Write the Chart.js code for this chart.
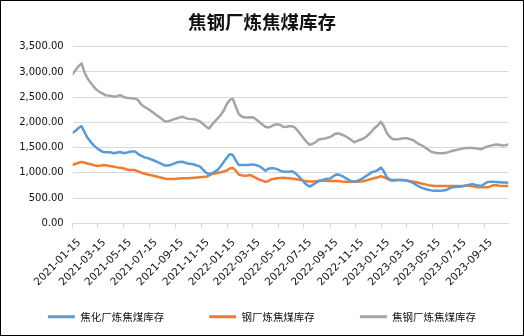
<!DOCTYPE html>
<html><head><meta charset="utf-8">
<script src="https://cdn.jsdelivr.net/npm/chart.js@4"></script>
<style>html,body{margin:0;padding:0;background:#fff;}</style>
</head><body><canvas id="c" width="524" height="336"></canvas>
<script>
const dates = [
'2021-01-15','2021-01-22','2021-01-29','2021-02-05','2021-02-12','2021-02-19','2021-02-26','2021-03-05','2021-03-12','2021-03-19',
'2021-03-26','2021-04-02','2021-04-09','2021-04-16','2021-04-23','2021-04-30','2021-05-07','2021-05-14','2021-05-21','2021-05-28',
'2021-06-04','2021-06-11','2021-06-18','2021-06-25','2021-07-02','2021-07-09','2021-07-16','2021-07-23','2021-07-30','2021-08-06',
'2021-08-13','2021-08-20','2021-08-27','2021-09-03','2021-09-10','2021-09-17','2021-09-24','2021-10-01','2021-10-08','2021-10-15',
'2021-10-22','2021-10-29','2021-11-05','2021-11-12','2021-11-19','2021-11-26','2021-12-03','2021-12-10','2021-12-17','2021-12-24',
'2021-12-31','2022-01-07','2022-01-14','2022-01-21','2022-01-28','2022-02-04','2022-02-11','2022-02-18','2022-02-25','2022-03-04',
'2022-03-11','2022-03-18','2022-03-25','2022-04-01','2022-04-08','2022-04-15','2022-04-22','2022-04-29','2022-05-06','2022-05-13',
'2022-05-20','2022-05-27','2022-06-03','2022-06-10','2022-06-17','2022-06-24','2022-07-01','2022-07-08','2022-07-15','2022-07-22',
'2022-07-29','2022-08-05','2022-08-12','2022-08-19','2022-08-26','2022-09-02','2022-09-09','2022-09-16','2022-09-23','2022-09-30',
'2022-10-07','2022-10-14','2022-10-21','2022-10-28','2022-11-04','2022-11-11','2022-11-18','2022-11-25','2022-12-02','2022-12-09',
'2022-12-16','2022-12-23','2022-12-30','2023-01-06','2023-01-13','2023-01-20','2023-01-27','2023-02-03','2023-02-10','2023-02-17',
'2023-02-24','2023-03-03','2023-03-10','2023-03-17','2023-03-24','2023-03-31','2023-04-07','2023-04-14','2023-04-21','2023-04-28',
'2023-05-05','2023-05-12','2023-05-19','2023-05-26','2023-06-02','2023-06-09','2023-06-16','2023-06-23','2023-06-30','2023-07-07',
'2023-07-14','2023-07-21','2023-07-28','2023-08-04','2023-08-11','2023-08-18','2023-08-25','2023-09-01','2023-09-08','2023-09-15',
'2023-09-22','2023-09-29','2023-10-06','2023-10-13','2023-10-20','2023-10-27','2023-11-03','2023-11-10'];

const cokingPlantStock = [1797,1835,1892,1925,1805,1695,1620,1550,1500,1455,
 1420,1407,1407,1403,1390,1402,1415,1395,1397,1413,
 1425,1422,1377,1342,1315,1298,1279,1255,1231,1204,
 1177,1148,1147,1157,1180,1204,1214,1221,1201,1185,
 1176,1166,1145,1125,1062,1005,975,993,1025,1065,
 1137,1222,1301,1371,1355,1250,1158,1155,1155,1156,
 1162,1168,1152,1130,1093,1041,1080,1090,1090,1075,
 1045,1023,1023,1023,1030,1000,946,888,820,765,
 728,762,800,840,857,872,883,891,934,969,
 961,937,899,869,836,830,842,868,897,937,
 975,1015,1030,1057,1105,1030,913,870,858,858,
 858,858,854,845,822,797,760,725,702,681,
 665,653,646,646,647,653,660,690,714,720,
 725,731,738,753,770,773,761,749,745,782,
 820,824,824,821,815,810,808,805];

const steelMillStock = [1162,1182,1201,1218,1201,1185,1170,1155,1143,1139,
 1151,1149,1141,1131,1120,1109,1100,1091,1072,1056,
 1056,1056,1032,1007,989,972,959,947,933,920,
 905,890,878,878,878,884,889,892,892,894,
 899,905,908,912,916,921,950,977,989,1001,
 1013,1028,1051,1085,1097,1050,968,952,944,949,
 957,926,896,868,845,822,837,874,883,892,
 897,902,900,893,887,879,870,858,845,836,
 827,828,834,839,842,844,841,838,838,838,
 834,828,824,824,824,824,824,828,836,849,
 866,883,899,914,932,915,884,856,848,854,
 858,858,854,845,835,826,814,800,786,772,
 757,748,740,739,739,739,739,739,739,739,
 739,739,743,750,746,733,722,717,713,713,
 713,734,755,754,744,739,739,739];

const totalStock = [2960,3040,3115,3170,2990,2870,2790,2715,2650,2605,
 2575,2540,2535,2525,2510,2520,2540,2510,2488,2483,
 2480,2470,2447,2365,2312,2282,2246,2200,2155,2115,
 2072,2025,2020,2035,2060,2077,2095,2113,2090,2070,
 2065,2062,2045,2017,1970,1915,1880,1955,2020,2085,
 2150,2240,2365,2445,2470,2320,2170,2118,2095,2099,
 2101,2098,2052,2006,1960,1915,1900,1922,1953,1962,
 1950,1915,1910,1925,1925,1895,1830,1755,1680,1607,
 1556,1577,1610,1660,1672,1680,1695,1714,1752,1782,
 1774,1755,1726,1693,1650,1605,1632,1657,1677,1715,
 1765,1830,1895,1943,2012,1925,1790,1715,1665,1665,
 1668,1680,1684,1684,1666,1645,1600,1565,1538,1500,
 1460,1418,1403,1390,1387,1387,1397,1416,1432,1447,
 1461,1475,1488,1494,1499,1492,1487,1476,1470,1500,
 1525,1540,1553,1561,1558,1542,1550,1563];

const seriesNames = ['焦化厂炼焦煤库存','钢厂炼焦煤库存','焦钢厂炼焦煤库存'];
const tickDates = ['2021-01-15','2021-03-15','2021-05-15','2021-07-15','2021-09-15','2021-11-15',
 '2022-01-15','2022-03-15','2022-05-15','2022-07-15','2022-09-15','2022-11-15',
 '2023-01-15','2023-03-15','2023-05-15','2023-07-15','2023-09-15'];
const yTickValues = [0,500,1000,1500,2000,2500,3000,3500];
const chartTitle = '焦钢厂炼焦煤库存';

const DAY = 86400000;
const t0 = Date.parse(dates[0]);
const dayOf = d => Math.round((Date.parse(d) - t0) / DAY);
const xDays = dates.map(dayOf);
const tickDays = tickDates.map(dayOf);
const toPts = vals => vals.map((v, i) => ({x: xDays[i], y: v}));

const CJK = "'Noto Sans CJK SC', 'DejaVu Sans', sans-serif";
const NUM = "'DejaVu Sans', sans-serif";
const colors = ['#5b9bd5', '#ed7d31', '#a5a5a5'];
const seriesVals = [cokingPlantStock, steelMillStock, totalStock];

const borderPlugin = {
  id: 'outerBorder',
  afterDraw(chart) {
    const c = chart.ctx;
    c.save();
    c.strokeStyle = '#000';
    c.lineWidth = 1;
    c.strokeRect(0.5, 0.5, chart.width - 1, chart.height - 1);
    c.restore();
  }
};

const unclipLabels = {
  id: 'unclipLabels',
  beforeDraw(chart) {
    const sx = chart.scales.x;
    sx._computeLabelArea = function () {
      return {top: this.top, left: 0, bottom: this.chart.height, right: this.chart.width};
    };
  }
};

new Chart(document.getElementById('c'), {
  type: 'line',
  data: {
    datasets: seriesVals.map((vals, i) => ({
      label: seriesNames[i],
      data: toPts(vals),
      borderColor: colors[i],
      backgroundColor: colors[i],
      borderWidth: 2.5,
      pointRadius: 0,
      pointHoverRadius: 0,
      tension: 0,
      fill: false,
      borderJoinStyle: 'round',
      borderCapStyle: 'round'
    }))
  },
  options: {
    responsive: false,
    animation: false,
    devicePixelRatio: 1,
    layout: {padding: {left: 0, right: 0, top: 0, bottom: 4}},
    plugins: {
      title: {
        display: true, text: chartTitle, color: '#111',
        font: {family: CJK, size: 18.5, weight: 'bold', lineHeight: 1.2},
        padding: {top: 10.6, bottom: 13.9}
      },
      legend: {
        position: 'bottom',
        labels: {
          boxWidth: 27, boxHeight: 3, padding: 45, color: '#111',
          font: {family: CJK, size: 10.5},
          generateLabels(chart) {
            const items = Chart.defaults.plugins.legend.labels.generateLabels(chart);
            items.forEach(it => { it.lineWidth = 0; it.fillStyle = it.strokeStyle; });
            return items;
          }
        }
      },
      tooltip: {enabled: false}
    },
    scales: {
      x: {
        type: 'linear',
        min: 0,
        max: xDays[xDays.length - 1],
        afterBuildTicks(scale) { scale.ticks = tickDays.map(v => ({value: v})); },
        afterFit(scale) { scale.height = 43.15; },
        ticks: {
          autoSkip: false, minRotation: 45, maxRotation: 45, padding: 8, labelOffset: 6.5,
          color: '#111', font: {family: NUM, size: 10.5},
          callback: (v) => { const k = tickDays.indexOf(v); return k >= 0 ? tickDates[k] : ''; }
        },
        grid: {drawOnChartArea: false, drawTicks: true, tickLength: 5, color: '#d9d9d9'},
        border: {display: true, color: '#d9d9d9'}
      },
      y: {
        min: 0, max: 3500,
        afterBuildTicks(scale) { scale.ticks = yTickValues.map(v => ({value: v})); },
        afterFit(scale) { scale.width = 72.7; },
        ticks: {
          padding: 9, color: '#111', font: {family: NUM, size: 10},
          callback: v => v.toLocaleString('en-US', {minimumFractionDigits: 2, maximumFractionDigits: 2})
        },
        grid: {color: '#d9d9d9', drawTicks: false},
        border: {display: false}
      },
      spacer: {
        type: 'linear', position: 'right', display: true,
        ticks: {display: false}, grid: {display: false}, border: {display: false},
        afterFit(scale) { scale.width = 15.7; }
      }
    }
  },
  plugins: [borderPlugin, unclipLabels]
});
</script></body></html>
